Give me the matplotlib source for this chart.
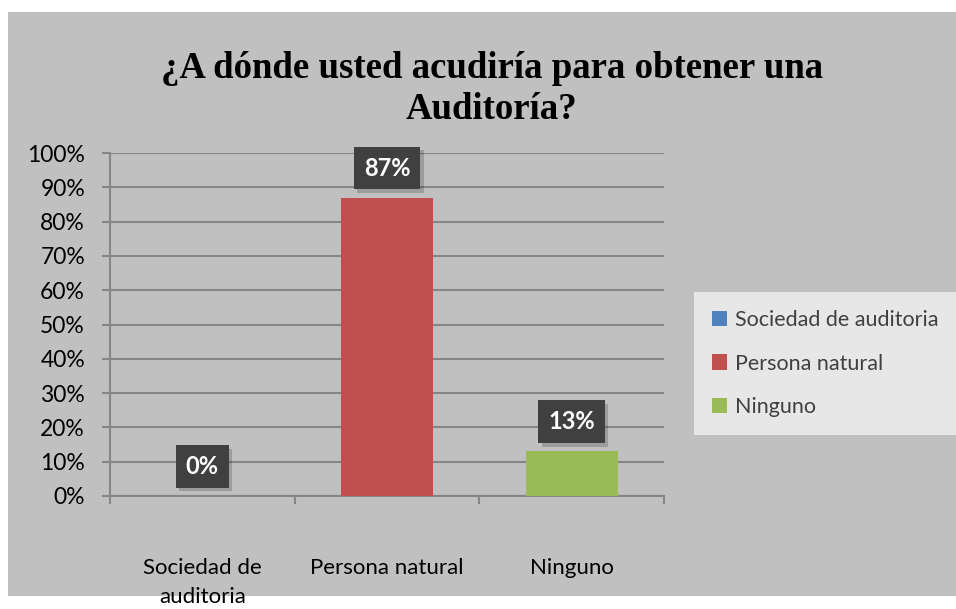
import matplotlib
matplotlib.use("Agg")
import matplotlib.pyplot as plt
from matplotlib.patches import Rectangle
from matplotlib.ticker import FixedLocator, PercentFormatter
import matplotlib.patheffects as pe

categories = ["Sociedad de\nauditoria", "Persona natural", "Ninguno"]
legend_labels = ["Sociedad de auditoria", "Persona natural", "Ninguno"]
values = [0, 87, 13]
value_labels = ["0%", "87%", "13%"]
colors = ["#4F81BD", "#C0504D", "#9BBB59"]
title = "¿A dónde usted acudiría para obtener una\nAuditoría?"

W, H = 956, 609
fig = plt.figure(figsize=(W / 100, H / 100), dpi=100)
fig.patch.set_facecolor("white")

# gray chart area
fig.add_artist(Rectangle((8 / W, 1 - 596 / H), (W - 8) / W, (596 - 12) / H,
                         transform=fig.transFigure, facecolor="#c0c0c0",
                         edgecolor="none", zorder=0))

ax = fig.add_axes([110 / W, 1 - 496 / H, 554 / W, 343 / H])
ax.set_facecolor("none")

x = list(range(len(values)))
ax.bar(x, values, width=0.5, color=colors, zorder=3)

ax.set_xlim(-0.5, 2.5)
ax.set_ylim(0, 100)
ax.yaxis.set_major_locator(FixedLocator(list(range(0, 101, 10))))
ax.yaxis.set_major_formatter(PercentFormatter(decimals=0))
ax.grid(axis="y", color="#868686", linewidth=1.5, zorder=1)
ax.set_axisbelow(True)

for s in ["top", "right"]:
    ax.spines[s].set_visible(False)
for s in ["left", "bottom"]:
    ax.spines[s].set_color("#868686")
    ax.spines[s].set_linewidth(1.5)

font = "Lato"
ax.set_xticks(x)
ax.set_xticklabels(categories, fontsize=16, family=font, color="black", linespacing=1.55)
ax.set_xticks([-0.5, 0.5, 1.5, 2.5], minor=True)
ax.tick_params(axis="x", which="major", length=0, pad=45)
ax.tick_params(axis="x", which="minor", length=6, width=1.5, color="#868686", direction="out")
ax.tick_params(axis="y", length=6, width=1.5, color="#868686", pad=12, labelsize=16.5)
for lab in ax.get_yticklabels():
    lab.set_family(font)

for xi, v, lab in zip(x, values, value_labels):
    t = ax.annotate(lab, (xi, v), xytext=(0, 13), textcoords="offset points",
                    ha="center", va="bottom", fontsize=17, fontweight="bold",
                    family=font, color="white", zorder=5,
                    bbox=dict(boxstyle="square,pad=0.42", facecolor="#404040",
                              edgecolor="none"))
    t.get_bbox_patch().set_path_effects([
        pe.SimplePatchShadow(offset=(2.5, -2.5), shadow_rgbFace="black", alpha=0.18),
        pe.Normal()])

fig.text(492 / W, 1 - 89 / H, title, ha="center", va="center",
         fontsize=26.5, fontweight="bold", family="Liberation Serif",
         linespacing=1.2, color="black")

handles = [Rectangle((0, 0), 1, 1, facecolor=c, edgecolor="none") for c in colors]
leg = fig.legend(handles, legend_labels, loc="upper left",
                 bbox_to_anchor=(694 / W, 1 - 292 / H),
                 frameon=True, fancybox=False,
                 prop={"family": font, "size": 15.5},
                 handlelength=0.7, handleheight=0.7, handletextpad=0.35,
                 labelspacing=1.08, borderpad=0.85, borderaxespad=0)
leg.get_frame().set_facecolor("#f2f2f2")
leg.get_frame().set_edgecolor("none")
for t in leg.get_texts():
    t.set_color("#404040")

fig.savefig("out.png", dpi=100)
